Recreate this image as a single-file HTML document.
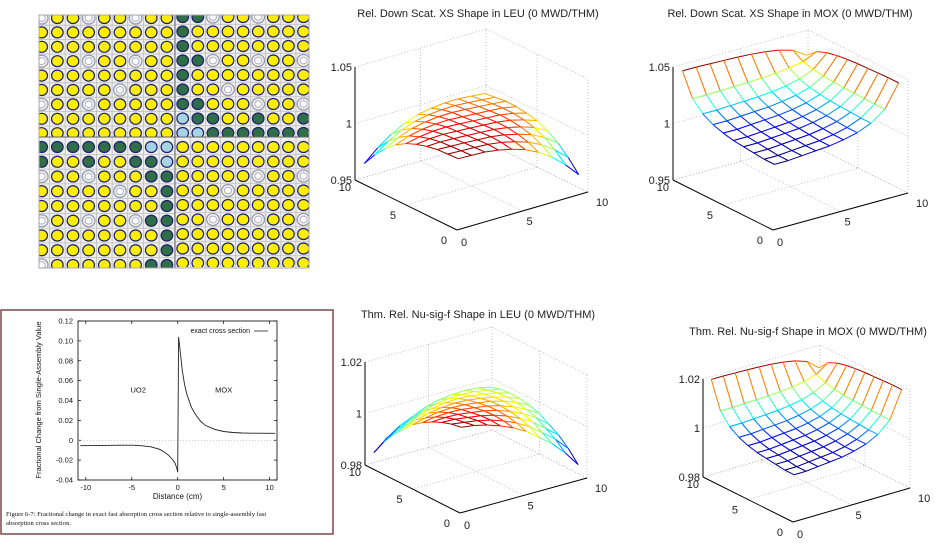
<!DOCTYPE html>
<html><head><meta charset="utf-8">
<style>
html,body{margin:0;padding:0;background:#fff;}
body{width:941px;height:546px;overflow:hidden;position:relative;font-family:"Liberation Sans",sans-serif;}
svg{position:absolute;left:0;top:0;}
</style></head>
<body>
<svg id="root" width="941" height="546" viewBox="0 0 941 546">
  <g id="lattice"></g>
  <g id="lineplot"></g>
  <g id="p3d"></g>
</svg>
<script>
// ---------------- Lattice data ----------------
const latticeTL = ["WYYWYYWYY","YYYYYYYYY","YYYYYYYYY","WYYWYYWYY","YYYYYYYYY","YYYYYWYYY","WYYWYYYYY","YYYYYYYYY","YYYYYYYYY"];
const latticeTR = ["GGWYYWYYY","GYYYYYYYY","GYYYYYYYY","GGWYYWYYW","GYYYYYYYY","GYYWYYYYY","GGYYYWYYW","BGGYYGYYG","BBGGGGGGG"];
const latticeBL = ["GGGGGGGBB","GYYGYYGGB","WYYWYYYGG","YYYYYWYYG","YYYYYYYYG","WYYWYYWGG","YYYYYYYYG","YYYYYYYYG","WYYYYYYGG"];
const latticeBR = ["YYYYYYYYY","YYYYYYYYY","YYYYYWYYW","YYYWYYYYY","YYYYYYYYY","YYWYYWYYW","YYYYYYYYY","YYYYYYYYY","YYYYYYYYY"];

// ---------------- Line chart data ----------------
const distX = [-10.6,-8,-6,-5,-4,-3,-2,-1.5,-1,-0.6,-0.3,-0.1,0,0.1,0.2,0.35,0.5,0.75,1,1.5,2,2.5,3,4,5,6,7,8,10.6];
const fracY = [-0.0055,-0.0052,-0.005,-0.005,-0.0055,-0.0065,-0.009,-0.0115,-0.015,-0.019,-0.023,-0.028,-0.032,0.104,0.095,0.083,0.07,0.056,0.046,0.033,0.025,0.019,0.015,0.011,0.0088,0.0078,0.0073,0.0071,0.007];
const yTicks = [0.12,0.10,0.08,0.06,0.04,0.02,0,-0.02,-0.04];
const yTickLabels = ["0.12","0.10","0.08","0.06","0.04","0.02","0","-0.02","-0.04"];
const xTicks = [-10,-5,0,5,10];
const xTickLabels = ["-10","-5","0","5","10"];

// ---------------- Surface data ----------------
// z(i,j) = base + profile[i] + profile[j] - cross*profile[i]*profile[j] + diag[|i-j|]
const leuScatProfile = [0.005,0.0045,0.004,0.0033,0.0026,0.0018,0.001,0.0002,-0.0008,-0.002];
const leuScatDiag = [0,0,0,-0.001,-0.003,-0.006,-0.011,-0.018,-0.027,-0.038];
const leuScatBase = 1.0, leuScatCross = 0;
const moxScatProfile = [0,0,0.001,0.002,0.003,0.005,0.008,0.013,0.022,0.042];
const moxScatDiag = [0,0,0,0,0,0,0,0,0,0];
const moxScatBase = 1.005, moxScatCross = 33;
const leuNuProfile = [0.006,0.0053,0.0046,0.0039,0.0032,0.0025,0.0017,0.0009,0.0,-0.001];
const leuNuDiag = [0,0,-0.0005,-0.0015,-0.003,-0.005,-0.008,-0.011,-0.015,-0.02];
const leuNuBase = 1.0, leuNuCross = 0;
const moxNuProfile = [0,0,0.0005,0.001,0.0015,0.0025,0.004,0.0065,0.011,0.022];
const moxNuDiag = [0,0,0,0,0,0,0,0,0,0];
const moxNuBase = 0.998, moxNuCross = 62;

const NS="http://www.w3.org/2000/svg";
function mk(tag,attrs,parent){const e=document.createElementNS(NS,tag);for(const k in attrs)e.setAttribute(k,attrs[k]);parent.appendChild(e);return e;}

// ---------- Lattice ----------
(function(){
  const g=document.getElementById('lattice');
  mk('rect',{x:39,y:15,width:270,height:253,fill:'#eeeeee'},g);
  const quads=[
    {data:latticeTL,x0:41.7,y0:18,dx:15.65,dy:14.4,clip:[39,15,136,122]},
    {data:latticeTR,x0:182.7,y0:17,dx:15.1,dy:14.5,clip:[175,15,134,122]},
    {data:latticeBL,x0:41.7,y0:147,dx:15.65,dy:14.75,clip:[39,137,136,131]},
    {data:latticeBR,x0:182.7,y0:147,dx:15.1,dy:14.5,clip:[175,137,134,130]}
  ];
  quads.forEach((q,qi)=>{
    const cp=mk('clipPath',{id:'qc'+qi},g);
    mk('rect',{x:q.clip[0],y:q.clip[1],width:q.clip[2],height:q.clip[3]},cp);
    const qg=mk('g',{'clip-path':'url(#qc'+qi+')'},g);
    
    
    for(let r=0;r<9;r++){
      const ly=q.y0+r*q.dy+q.dy/2;
      mk('line',{x1:q.clip[0],x2:q.clip[0]+q.clip[2],y1:ly,y2:ly,stroke:'#bdbdbd','stroke-width':0.8},qg);
    }
    for(let c=0;c<9;c++){
      const lx=q.x0+c*q.dx+q.dx/2;
      mk('line',{x1:lx,x2:lx,y1:q.clip[1],y2:q.clip[1]+q.clip[3],stroke:'#bdbdbd','stroke-width':0.8},qg);
    }
    q.data.forEach((row,r)=>{
      [...row].forEach((ch,c)=>{
        const cx=q.x0+c*q.dx, cy=q.y0+r*q.dy;
        let p;
        if(ch==='W'){
          p=mk('ellipse',{cx:cx,cy:cy,rx:6.3,ry:6.0,fill:'#f4f4f4',stroke:'#9a9ab0','stroke-width':1.3},qg);
          mk('ellipse',{cx:cx,cy:cy,rx:3.6,ry:3.4,fill:'#ffffff',stroke:'#b0b0c0','stroke-width':1},qg);
        }else{
          const fill=ch==='Y'?'#ffee00':ch==='G'?'#2f6e47':'#a7d3e6';
          p=mk('ellipse',{cx:cx,cy:cy,rx:5.8,ry:5.5,fill:fill,stroke:'#1c1f6a','stroke-width':1.2},qg);
        }
        
        
      });
    });
  });
  mk('line',{x1:175,x2:175,y1:15,y2:268,stroke:'#666','stroke-width':1},g);
  mk('line',{x1:39,x2:309,y1:137,y2:137,stroke:'#666','stroke-width':1},g);
  mk('rect',{x:39,y:15,width:270,height:253,fill:'none',stroke:'#aaa','stroke-width':1},g);
})();

// ---------- Line chart ----------
(function(){
  const g=document.getElementById('lineplot');
  const box=mk('rect',{x:1,y:310,width:332,height:224,fill:'#fff',stroke:'#6b2b2b','stroke-width':1.3},g);
  
  const L=78,R=277,T=321,B=480,xmin=-10.85,xmax=10.8,ymin=-0.04,ymax=0.12;
  const sx=v=>L+(v-xmin)/(xmax-xmin)*(R-L);
  const sy=v=>B-(v-ymin)/(ymax-ymin)*(B-T);
  const frame=mk('rect',{x:L,y:T,width:R-L,height:B-T,fill:'none',stroke:'#000','stroke-width':0.8},g);
  
  yTicks.forEach((v,i)=>{
    const y=sy(v);
    mk('line',{x1:L,x2:L+3,y1:y,y2:y,stroke:'#000','stroke-width':0.7},g);
    mk('line',{x1:R,x2:R-3,y1:y,y2:y,stroke:'#000','stroke-width':0.7},g);
    const t=mk('text',{x:L-5,y:y+2.5,'font-size':7.5,'text-anchor':'end',fill:'#111'},g);
    t.textContent=yTickLabels[i];
    
  });
  xTicks.forEach((v,i)=>{
    const x=sx(v);
    mk('line',{x1:x,x2:x,y1:B,y2:B-3,stroke:'#000','stroke-width':0.7},g);
    mk('line',{x1:x,x2:x,y1:T,y2:T+3,stroke:'#000','stroke-width':0.7},g);
    const t=mk('text',{x:x,y:B+10,'font-size':7.5,'text-anchor':'middle',fill:'#111'},g);
    t.textContent=xTickLabels[i];
    
  });
  mk('line',{x1:L,x2:R,y1:sy(0),y2:sy(0),stroke:'#999','stroke-width':0.6,'stroke-dasharray':'1,2'},g);
  const pts=distX.map((x,i)=>sx(x).toFixed(1)+','+sy(fracY[i]).toFixed(1)).join(' ');
  const line=mk('polyline',{points:pts,fill:'none',stroke:'#222','stroke-width':0.9},g);
  
  const lg=mk('text',{x:250,y:333,'font-size':7,'text-anchor':'end',fill:'#111'},g);
  lg.textContent='exact cross section';
  
  mk('line',{x1:254,x2:268,y1:331,y2:331,stroke:'#222','stroke-width':0.8},g);
  const u=mk('text',{x:sx(-4.3),y:sy(0.048),'font-size':7.5,'text-anchor':'middle',fill:'#111'},g);u.textContent='UO2';
  
  const m=mk('text',{x:sx(5),y:sy(0.048),'font-size':7.5,'text-anchor':'middle',fill:'#111'},g);m.textContent='MOX';
  
  const xl=mk('text',{x:(L+R)/2,y:499,'font-size':8,'text-anchor':'middle',fill:'#111'},g);xl.textContent='Distance (cm)';
  
  const yl=mk('text',{x:0,y:0,'font-size':7.5,'text-anchor':'middle',fill:'#111',transform:'translate(41,400) rotate(-90)'},g);
  yl.textContent='Fractional Change from Single-Assembly Value';
  
  const c1=mk('text',{x:6,y:516,'font-size':6.6,fill:'#111','font-family':'Liberation Serif, serif'},g);
  c1.textContent='Figure 6-7: Fractional change in exact fast absorption cross section relative to single-assembly fast';
  
  const c2=mk('text',{x:6,y:525,'font-size':6.6,fill:'#111','font-family':'Liberation Serif, serif'},g);
  c2.textContent='absorption cross section.';
  
})();

// ---------- 3D mesh plots ----------
function jet(t){
  t=Math.max(0,Math.min(1,t));
  const r=Math.max(0,Math.min(1,1.5-Math.abs(4*t-3)));
  const g=Math.max(0,Math.min(1,1.5-Math.abs(4*t-2)));
  const b=Math.max(0,Math.min(1,1.5-Math.abs(4*t-1)));
  return 'rgb('+Math.round(r*255)+','+Math.round(g*255)+','+Math.round(b*255)+')';
}
function surface(cfg){
  const g=mk('g',{},document.getElementById('p3d'));
  
  
  const O=cfg.origin,X=cfg.xend,Y=cfg.yend;
  const zpx=cfg.zbot-cfg.ztop;
  const P=(u,v,z)=>[O[0]+u*(X[0]-O[0])+v*(Y[0]-O[0]), O[1]+u*(X[1]-O[1])+v*(Y[1]-O[1])-(z-cfg.zmin)/(cfg.zmax-cfg.zmin)*zpx];
  const dot={stroke:'#aaa','stroke-width':0.7,'stroke-dasharray':'1,2',fill:'none'};
  const L=(a,b,st)=>mk('line',Object.assign({x1:a[0],y1:a[1],x2:b[0],y2:b[1]},st),g);
  [[0,1],[1,1],[1,0]].forEach(c=>L(P(c[0],c[1],cfg.zmin),P(c[0],c[1],cfg.zmax),dot));
  cfg.zticks.forEach(z=>{L(P(0,1,z),P(1,1,z),dot);L(P(1,1,z),P(1,0,z),dot);});
  L(P(0.5,1,cfg.zmin),P(0.5,1,cfg.zmax),dot);L(P(1,0.5,cfg.zmin),P(1,0.5,cfg.zmax),dot);
  L(P(0.5,0,cfg.zmin),P(0.5,1,cfg.zmin),dot);L(P(0,0.5,cfg.zmin),P(1,0.5,cfg.zmin),dot);
  L(P(0,1,cfg.zmin),P(1,1,cfg.zmin),dot);L(P(1,1,cfg.zmin),P(1,0,cfg.zmin),dot);
  const ax={stroke:'#000','stroke-width':1};
  L(P(0,1,cfg.zmin),P(0,1,cfg.zmax),ax);L(P(0,1,cfg.zmin),P(0,0,cfg.zmin),ax);L(P(0,0,cfg.zmin),P(1,0,cfg.zmin),ax);
  cfg.zticks.forEach((z,i)=>{
    const p=P(0,1,z);
    const t=mk('text',{x:p[0]-3,y:p[1]+4,'font-size':11,'text-anchor':'end',fill:'#222'},g);
    t.textContent=cfg.zlabels[i];
    
  });
  [[0,'0'],[0.5,'5'],[1,'10']].forEach(a=>{
    const p=P(0,a[0],cfg.zmin);
    const t=mk('text',{x:p[0]-(a[0]===1?4:10),y:p[1]+(a[0]===1?11:14),'font-size':11,'text-anchor':'end',fill:'#222'},g);
    t.textContent=a[1];
    
    const q=P(a[0],0,cfg.zmin);
    const t2=mk('text',{x:q[0]+(a[0]===1?8:4),y:q[1]+(a[0]===0?16:14),'font-size':11,'text-anchor':'start',fill:'#222'},g);
    t2.textContent=a[1];
    
  });
  const tt=mk('text',{x:cfg.title[0],y:cfg.title[1],'font-size':11,'text-anchor':'middle',fill:'#222'},g);
  tt.textContent=cfg.titleText;
  
  const p=cfg.profile,d=cfg.diag,n=p.length;
  const Z=(i,j)=>cfg.base+p[i]+p[j]-cfg.cross*p[i]*p[j]+d[Math.abs(i-j)];
  let zlo=Infinity,zhi=-Infinity;
  for(let i=0;i<n;i++)for(let j=0;j<n;j++){const z=Z(i,j);zlo=Math.min(zlo,z);zhi=Math.max(zhi,z);}
  const f=k=>0.04+0.92*k/(n-1);
  const V=(i,j)=>P(f(i),f(j),Z(i,j));
  const col=(a,b)=>jet(((a+b)/2-zlo)/(zhi-zlo));
  const quads=[];
  for(let i=0;i<n-1;i++)for(let j=0;j<n-1;j++)quads.push([i,j]);
  quads.sort((a,b)=>(b[0]+b[1])-(a[0]+a[1]));
  const mg=mk('g',{},g);
  
  quads.forEach(([i,j])=>{
    const c=[[i,j],[i+1,j],[i+1,j+1],[i,j+1]];
    const pts=c.map(k=>V(k[0],k[1]));
    const poly=mk('polygon',{points:pts.map(q=>q[0].toFixed(1)+','+q[1].toFixed(1)).join(' '),fill:'#fff',stroke:'none'},mg);
    
    for(let k=0;k<4;k++){
      const a=c[k],b=c[(k+1)%4];
      const pa=pts[k],pb=pts[(k+1)%4];
      mk('line',{x1:pa[0],y1:pa[1],x2:pb[0],y2:pb[1],stroke:col(Z(a[0],a[1]),Z(b[0],b[1])),'stroke-width':1},mg);
    }
  });
}
surface({name:'leu-down-scat-surface',titleText:'Rel. Down Scat. XS Shape in LEU (0 MWD/THM)',title:[478,17],
  origin:[457,230],xend:[588,192],yend:[355,180],ztop:67,zbot:180,zmin:0.95,zmax:1.05,
  zticks:[0.95,1,1.05],zlabels:['0.95','1','1.05'],profile:leuScatProfile,diag:leuScatDiag,base:leuScatBase,cross:leuScatCross});
surface({name:'mox-down-scat-surface',titleText:'Rel. Down Scat. XS Shape in MOX (0 MWD/THM)',title:[790,17],
  origin:[773,230],xend:[908,193],yend:[673,180],ztop:67,zbot:180,zmin:0.95,zmax:1.05,
  zticks:[0.95,1,1.05],zlabels:['0.95','1','1.05'],profile:moxScatProfile,diag:moxScatDiag,base:moxScatBase,cross:moxScatCross});
surface({name:'leu-nu-sig-f-surface',titleText:'Thm. Rel. Nu-sig-f Shape in LEU (0 MWD/THM)',title:[478,318],
  origin:[460,513],xend:[587,478],yend:[365,465],ztop:362,zbot:465,zmin:0.98,zmax:1.02,
  zticks:[0.98,1,1.02],zlabels:['0.98','1','1.02'],profile:leuNuProfile,diag:leuNuDiag,base:leuNuBase,cross:leuNuCross});
surface({name:'mox-nu-sig-f-surface',titleText:'Thm. Rel. Nu-sig-f Shape in MOX (0 MWD/THM)',title:[808,335],
  origin:[793,522],xend:[910,488],yend:[703,477],ztop:379,zbot:477,zmin:0.98,zmax:1.02,
  zticks:[0.98,1,1.02],zlabels:['0.98','1','1.02'],profile:moxNuProfile,diag:moxNuDiag,base:moxNuBase,cross:moxNuCross});
</script>
</body></html>
